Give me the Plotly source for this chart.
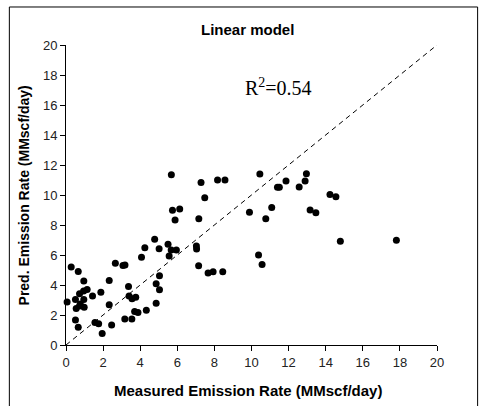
import plotly.graph_objects as go

# measured vs predicted emission rate (MMscf/day)
measured = [
    0.06, 0.28, 0.66, 0.96, 0.51, 0.96, 0.77, 0.55, 0.73, 0.98,
    0.73, 0.95, 1.14, 1.43, 1.88, 0.51, 0.66, 1.56, 1.76, 1.95,
    2.33, 2.33, 2.46, 2.66, 3.07, 3.18, 3.37, 3.40, 3.56, 3.76,
    3.17, 3.55, 3.70, 3.88, 4.33, 4.07, 4.25, 4.78, 4.86, 4.86,
    5.04, 5.04, 5.02, 5.50, 5.56, 5.67, 5.95, 5.74, 5.88, 6.13,
    5.68, 7.03, 7.04, 7.16, 7.15, 7.66, 7.93, 8.45, 7.28, 7.48,
    8.17, 8.57, 9.89, 10.45, 10.77, 11.09, 10.38, 10.57, 11.40, 11.50,
    11.86, 12.57, 12.89, 12.96, 13.16, 13.47, 14.23, 14.55, 14.79, 17.81,
]
predicted = [
    2.87, 5.20, 4.90, 4.26, 3.04, 3.04, 2.73, 2.44, 2.60, 2.51,
    3.42, 3.60, 3.70, 3.27, 3.52, 1.67, 1.19, 1.50, 1.41, 0.77,
    4.30, 2.69, 1.33, 5.45, 5.30, 5.34, 3.90, 3.27, 3.09, 3.18,
    1.73, 1.73, 2.24, 2.16, 2.31, 5.85, 6.49, 7.05, 4.09, 2.78,
    4.62, 3.68, 6.42, 6.72, 5.93, 6.33, 6.33, 8.99, 8.33, 9.07,
    11.35, 6.60, 6.40, 8.41, 5.28, 4.80, 4.88, 4.88, 10.84, 9.82,
    11.00, 11.00, 8.85, 11.40, 8.42, 9.16, 6.00, 5.36, 10.51, 10.51,
    10.93, 10.53, 10.93, 11.42, 9.00, 8.82, 10.04, 9.89, 6.91, 6.98,
]
one_to_one = [0, 20]
tick_vals = list(range(0, 21, 2))
r_squared = 0.54

fig = go.Figure()
fig.add_trace(
    go.Scatter(
        x=one_to_one,
        y=one_to_one,
        mode="lines",
        line={"color": "black", "width": 1, "dash": "5px,4px"},
        hoverinfo="skip",
        showlegend=False,
    )
)
fig.add_trace(
    go.Scatter(
        x=measured,
        y=predicted,
        mode="markers",
        marker={"color": "black", "size": 7},
        cliponaxis=False,
        showlegend=False,
    )
)

axis_style = {
    "range": [0, 20],
    "tickvals": tick_vals,
    "showgrid": False,
    "zeroline": False,
    "showline": True,
    "linecolor": "black",
    "linewidth": 1,
    "ticks": "outside",
    "ticklen": 5,
    "tickcolor": "black",
    "tickfont": {"family": "Liberation Sans, Arial", "size": 13, "color": "#222"},
}
fig.update_xaxes(**axis_style)
fig.update_yaxes(**axis_style)

title_font = {"family": "Liberation Sans, Arial", "size": 15, "color": "black"}
fig.add_annotation(
    text="<b>Linear model</b>", xref="paper", yref="paper",
    x=0.49, y=1.05, xanchor="center", yanchor="middle",
    showarrow=False, font=title_font,
)
fig.add_annotation(
    text="<b>Measured Emission Rate (MMscf/day)</b>", xref="paper", yref="paper",
    x=0.49, y=-0.15, xanchor="center", yanchor="middle",
    showarrow=False, font=title_font,
)
fig.add_annotation(
    text="<b>Pred. Emission Rate (MMscf/day)</b>", xref="paper", yref="paper",
    x=-0.112, y=0.5, xanchor="center", yanchor="middle", textangle=-90,
    showarrow=False,
    font={"family": "Liberation Sans, Arial", "size": 14, "color": "black"},
)
fig.add_annotation(
    text=f"R<sup>2</sup>={r_squared}", xref="x", yref="y",
    x=9.54, y=17.2, xanchor="left", yanchor="middle", showarrow=False,
    font={"family": "Liberation Serif, Times New Roman", "size": 20, "color": "black"},
)

# outer frame of the chart
fig.add_shape(
    type="rect", xref="paper", yref="paper",
    x0=-0.1527, x1=1.1095, y0=-0.22, y1=1.1267,
    line={"color": "black", "width": 1},
)

fig.update_layout(
    width=480,
    height=406,
    margin={"l": 66, "r": 43, "t": 45, "b": 61},
    plot_bgcolor="white",
    paper_bgcolor="white",
)

fig.write_html(
    "out.html",
    config={"displayModeBar": False},
    post_script="document.body.style.margin='0';",
)
